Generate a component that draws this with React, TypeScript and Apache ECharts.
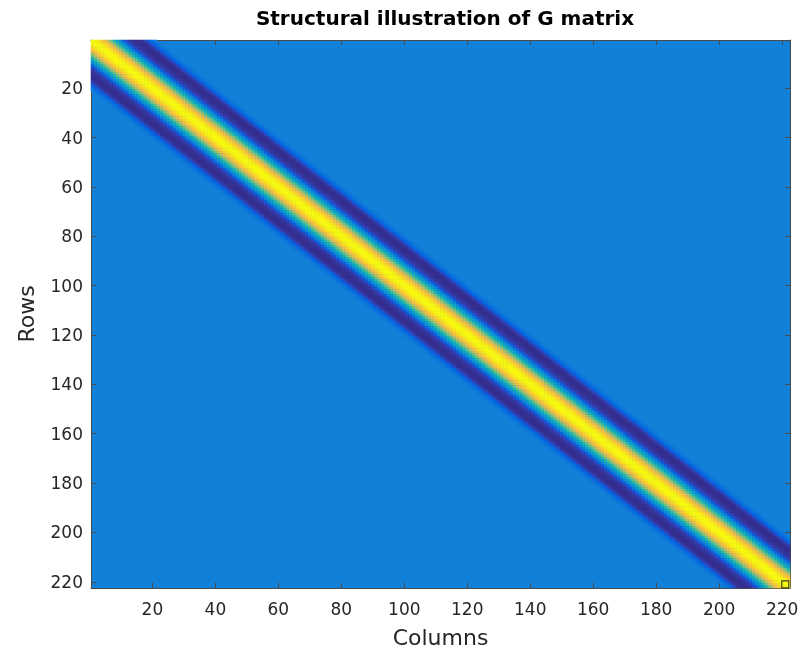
import React, { useEffect, useRef } from "react";
import * as echarts from "echarts";

const matrixSize = 222;
const bandProfile = [1.0, 0.98, 0.93, 0.85, 0.74, 0.6, 0.45, 0.3, 0.15, 0.02, -0.14, -0.22, -0.26, -0.28, -0.29, -0.29, -0.27, -0.21, -0.14, -0.08, -0.03, 0];
const tickLabels = [20, 40, 60, 80, 100, 120, 140, 160, 180, 200, 220];
const valueRange = [-0.3, 1];
const markerCell = ["221", "221"];
const parula = [
  "#352a87", "#3243ba", "#0363e1", "#0d75dc", "#1485d4", "#0998d1", "#06a7c6", "#15b1b4",
  "#38b99e", "#65be86", "#92bf73", "#b7bd64", "#d9ba56", "#f8bb44", "#fcce2e", "#f5e41d", "#f9fb0e",
];

const FONT = "DejaVu Sans";

export default function App() {
  const ref = useRef<HTMLDivElement>(null);
  useEffect(() => {
    const chart = echarts.init(ref.current!, null, { renderer: "svg" });
    const categories = Array.from({ length: matrixSize }, (_, i) => String(i + 1));
    const cells: number[][] = [];
    for (let r = 0; r < matrixSize; r++) {
      for (let c = 0; c < matrixSize; c++) {
        const k = Math.abs(r - c);
        if (k < bandProfile.length && bandProfile[k] !== 0) cells.push([c, r, bandProfile[k]]);
      }
    }
    const bg = echarts.color.lerp((0 - valueRange[0]) / (valueRange[1] - valueRange[0]), parula) as string;
    const show = (i: number) => tickLabels.includes(i + 1);
    const lineStyle = { color: "#4a4a4a", width: 1 };
    const baseAxis = (extra: any) => ({
      type: "category",
      data: categories,
      boundaryGap: true,
      axisLine: { show: true, onZero: false, lineStyle },
      axisTick: { show: true, inside: true, length: 5, alignWithLabel: true, interval: show, lineStyle },
      splitLine: { show: false },
      ...extra,
    });
    chart.setOption({
      animation: false,
      title: {
        text: "Structural illustration of G matrix",
        left: 440,
        textAlign: "center",
        top: 3,
        textStyle: { fontFamily: FONT, fontWeight: "bold", fontSize: 20, color: "#000" },
      },
      grid: { left: 91, right: 20, top: 40, bottom: 62, show: true, backgroundColor: bg, borderWidth: 0 },
      visualMap: {
        type: "continuous",
        show: false,
        min: valueRange[0],
        max: valueRange[1],
        dimension: 2,
        seriesIndex: 0,
        inRange: { color: parula },
      },
      xAxis: [
        baseAxis({
          position: "bottom",
          name: "Columns",
          nameLocation: "middle",
          nameGap: 38,
          nameTextStyle: { fontFamily: FONT, fontSize: 22, color: "#262626" },
          axisLabel: { show: true, interval: show, margin: 12, fontFamily: FONT, fontSize: 17, color: "#262626" },
        }),
        baseAxis({ position: "top", axisLabel: { show: false } }),
      ],
      yAxis: [
        baseAxis({
          position: "left",
          inverse: true,
          name: "Rows",
          nameLocation: "middle",
          nameGap: 54,
          nameTextStyle: { fontFamily: FONT, fontSize: 22, color: "#262626" },
          axisLabel: { show: true, interval: show, margin: 8, fontFamily: FONT, fontSize: 17, color: "#262626" },
        }),
        baseAxis({ position: "right", inverse: true, axisLabel: { show: false } }),
      ],
      series: [
        {
          type: "heatmap",
          xAxisIndex: 0,
          yAxisIndex: 0,
          data: cells,
          progressive: 0,
          emphasis: { disabled: true },
        },
        {
          type: "scatter",
          xAxisIndex: 0,
          yAxisIndex: 0,
          data: [markerCell],
          symbol: "rect",
          symbolSize: 7,
          itemStyle: { color: "rgba(0,0,0,0)", borderColor: "#1a1a1a", borderWidth: 1.2 },
          z: 5,
        },
      ],
    });
    return () => chart.dispose();
  }, []);
  return <div ref={ref} style={{ position: "fixed", left: 0, top: 0, width: 810, height: 653 }} />;
}
